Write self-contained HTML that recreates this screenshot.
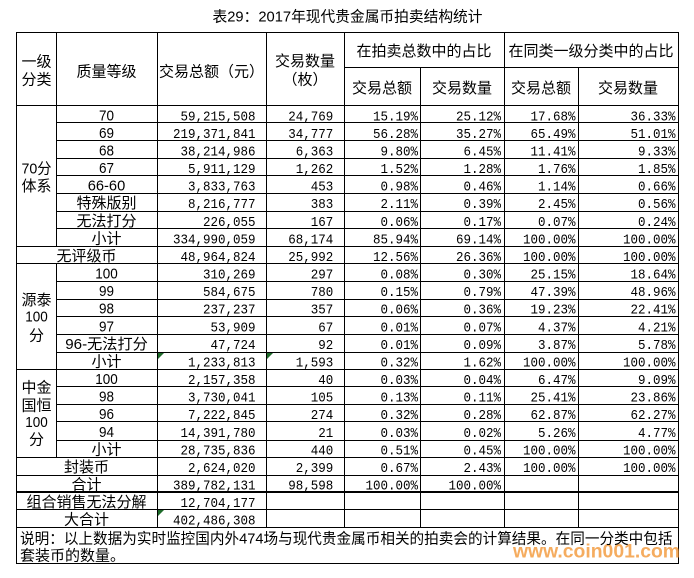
<!DOCTYPE html>
<html><head><meta charset="utf-8"><style>
html,body{margin:0;padding:0;background:#fff;}
svg{display:block;}
.c{font-family:"Liberation Sans","Noto Sans CJK SC",sans-serif;font-size:15px;fill:#000;}
.n{font-family:"Liberation Mono","Noto Sans CJK SC",monospace;font-size:14px;fill:#000;}
</style></head><body>
<svg width="694" height="578" viewBox="0 0 694 578" xmlns="http://www.w3.org/2000/svg">
<rect x="0" y="0" width="694" height="578" fill="#fff"/>
<g fill="#000" shape-rendering="crispEdges">
<!-- horizontal -->
<rect x="16" y="32" width="663" height="1"/>
<rect x="344" y="67" width="335" height="1"/>
<rect x="16" y="105" width="663" height="1"/>
<rect x="56" y="122" width="623" height="1"/>
<rect x="56" y="140" width="623" height="1"/>
<rect x="56" y="158" width="623" height="1"/>
<rect x="56" y="175" width="623" height="1"/>
<rect x="56" y="193" width="623" height="1"/>
<rect x="56" y="211" width="623" height="1"/>
<rect x="56" y="228" width="623" height="1"/>
<rect x="16" y="246" width="663" height="1"/>
<rect x="16" y="263" width="663" height="1"/>
<rect x="56" y="281" width="623" height="1"/>
<rect x="56" y="299" width="623" height="1"/>
<rect x="56" y="316" width="623" height="1"/>
<rect x="56" y="334" width="623" height="1"/>
<rect x="56" y="352" width="623" height="1"/>
<rect x="16" y="369" width="663" height="1"/>
<rect x="56" y="386" width="623" height="1"/>
<rect x="56" y="404" width="623" height="1"/>
<rect x="56" y="421" width="623" height="1"/>
<rect x="56" y="440" width="623" height="1"/>
<rect x="16" y="457" width="663" height="1"/>
<rect x="16" y="475" width="663" height="1"/>
<rect x="16" y="491" width="663" height="2"/>
<rect x="16" y="509" width="663" height="1"/>
<rect x="16" y="527" width="663" height="1"/>
<rect x="16" y="563" width="663" height="1"/>
<!-- vertical -->
<rect x="16" y="32" width="1" height="532"/>
<rect x="56" y="32" width="1" height="215"/>
<rect x="56" y="263" width="1" height="195"/>
<rect x="157" y="32" width="1" height="496"/>
<rect x="266" y="32" width="1" height="496"/>
<rect x="344" y="32" width="1" height="496"/>
<rect x="504" y="32" width="1" height="496"/>
<rect x="420" y="67" width="1" height="461"/>
<rect x="578" y="67" width="1" height="461"/>
<rect x="678" y="32" width="1" height="532"/>
</g>
<!-- excel green markers -->
<g fill="#1e6b2a">
<polygon points="158,353 164,353 158,359"/>
<polygon points="267,353 273,353 267,359"/>
<polygon points="158,510 164,510 158,516"/>
</g>

<!-- title -->
<text class="c" x="347.5" y="21.7" text-anchor="middle" textLength="270" lengthAdjust="spacingAndGlyphs">表29：2017年现代贵金属币拍卖结构统计</text>

<!-- header -->
<g class="c" text-anchor="middle">
<text x="36.5" y="66.5">一级</text>
<text x="36.5" y="84.5">分类</text>
<text x="106.5" y="76.5">质量等级</text>
<text x="211.5" y="76.5">交易总额（元）</text>
<text x="305" y="66">交易数量</text>
<text x="305" y="84.5">（枚）</text>
<text x="424" y="56">在拍卖总数中的占比</text>
<text x="591" y="56">在同类一级分类中的占比</text>
<text x="382" y="93">交易总额</text>
<text x="462" y="93">交易数量</text>
<text x="541" y="93">交易总额</text>
<text x="628" y="93">交易数量</text>
</g>

<!-- group labels col1 -->
<g class="c" text-anchor="middle">
<text x="36.5" y="173.5" textLength="30" lengthAdjust="spacingAndGlyphs">70分</text>
<text x="36.5" y="191">体系</text>
<text x="36.5" y="305">源泰</text>
<text x="36.5" y="321.7" textLength="22.5" lengthAdjust="spacingAndGlyphs">100</text>
<text x="36.5" y="340.7">分</text>
<text x="36.5" y="392.4">中金</text>
<text x="36.5" y="410.5">国恒</text>
<text x="36.5" y="427" textLength="22.5" lengthAdjust="spacingAndGlyphs">100</text>
<text x="36.5" y="444.5">分</text>
</g>

<!-- col2 labels -->
<g class="c" text-anchor="middle">
<text x="106.5" y="120.3" textLength="15" lengthAdjust="spacingAndGlyphs">70</text>
<text x="106.5" y="137.9" textLength="15" lengthAdjust="spacingAndGlyphs">69</text>
<text x="106.5" y="155.5" textLength="15" lengthAdjust="spacingAndGlyphs">68</text>
<text x="106.5" y="173" textLength="15" lengthAdjust="spacingAndGlyphs">67</text>
<text x="106.5" y="190.6" textLength="37.5" lengthAdjust="spacingAndGlyphs">66-60</text>
<text x="106.5" y="208.2">特殊版别</text>
<text x="106.5" y="225.8">无法打分</text>
<text x="106.5" y="243.4">小计</text>
<text x="86.5" y="261">无评级币</text>
<text x="106.5" y="278.5" textLength="22.5" lengthAdjust="spacingAndGlyphs">100</text>
<text x="106.5" y="296.1" textLength="15" lengthAdjust="spacingAndGlyphs">99</text>
<text x="106.5" y="313.7" textLength="15" lengthAdjust="spacingAndGlyphs">98</text>
<text x="106.5" y="331.3" textLength="15" lengthAdjust="spacingAndGlyphs">97</text>
<text x="106.5" y="348.9" textLength="82.5" lengthAdjust="spacingAndGlyphs">96-无法打分</text>
<text x="106.5" y="366.5">小计</text>
<text x="106.5" y="384" textLength="22.5" lengthAdjust="spacingAndGlyphs">100</text>
<text x="106.5" y="401.6" textLength="15" lengthAdjust="spacingAndGlyphs">98</text>
<text x="106.5" y="419.2" textLength="15" lengthAdjust="spacingAndGlyphs">96</text>
<text x="106.5" y="436.8" textLength="15" lengthAdjust="spacingAndGlyphs">94</text>
<text x="106.5" y="454.4">小计</text>
<text x="86.5" y="472">封装币</text>
<text x="86.5" y="489.5">合计</text>
<text x="86.5" y="507.1">组合销售无法分解</text>
<text x="86.5" y="524.7">大合计</text>
</g>

<!-- col3 amounts -->
<g class="n" text-anchor="end">
<text x="255.5" y="120.3" textLength="75" lengthAdjust="spacingAndGlyphs">59,215,508</text>
<text x="255.5" y="137.9" textLength="82.5" lengthAdjust="spacingAndGlyphs">219,371,841</text>
<text x="255.5" y="155.5" textLength="75" lengthAdjust="spacingAndGlyphs">38,214,986</text>
<text x="255.5" y="173" textLength="67.5" lengthAdjust="spacingAndGlyphs">5,911,129</text>
<text x="255.5" y="190.6" textLength="67.5" lengthAdjust="spacingAndGlyphs">3,833,763</text>
<text x="255.5" y="208.2" textLength="67.5" lengthAdjust="spacingAndGlyphs">8,216,777</text>
<text x="255.5" y="225.8" textLength="52.5" lengthAdjust="spacingAndGlyphs">226,055</text>
<text x="255.5" y="243.4" textLength="82.5" lengthAdjust="spacingAndGlyphs">334,990,059</text>
<text x="255.5" y="261" textLength="75" lengthAdjust="spacingAndGlyphs">48,964,824</text>
<text x="255.5" y="278.5" textLength="52.5" lengthAdjust="spacingAndGlyphs">310,269</text>
<text x="255.5" y="296.1" textLength="52.5" lengthAdjust="spacingAndGlyphs">584,675</text>
<text x="255.5" y="313.7" textLength="52.5" lengthAdjust="spacingAndGlyphs">237,237</text>
<text x="255.5" y="331.3" textLength="45" lengthAdjust="spacingAndGlyphs">53,909</text>
<text x="255.5" y="348.9" textLength="45" lengthAdjust="spacingAndGlyphs">47,724</text>
<text x="255.5" y="366.5" textLength="67.5" lengthAdjust="spacingAndGlyphs">1,233,813</text>
<text x="255.5" y="384" textLength="67.5" lengthAdjust="spacingAndGlyphs">2,157,358</text>
<text x="255.5" y="401.6" textLength="67.5" lengthAdjust="spacingAndGlyphs">3,730,041</text>
<text x="255.5" y="419.2" textLength="67.5" lengthAdjust="spacingAndGlyphs">7,222,845</text>
<text x="255.5" y="436.8" textLength="75" lengthAdjust="spacingAndGlyphs">14,391,780</text>
<text x="255.5" y="454.4" textLength="75" lengthAdjust="spacingAndGlyphs">28,735,836</text>
<text x="255.5" y="472" textLength="67.5" lengthAdjust="spacingAndGlyphs">2,624,020</text>
<text x="255.5" y="489.5" textLength="82.5" lengthAdjust="spacingAndGlyphs">389,782,131</text>
<text x="255.5" y="507.1" textLength="75" lengthAdjust="spacingAndGlyphs">12,704,177</text>
<text x="255.5" y="524.7" textLength="82.5" lengthAdjust="spacingAndGlyphs">402,486,308</text>
</g>

<!-- col4 counts -->
<g class="n" text-anchor="end">
<text x="333.3" y="120.3" textLength="45" lengthAdjust="spacingAndGlyphs">24,769</text>
<text x="333.3" y="137.9" textLength="45" lengthAdjust="spacingAndGlyphs">34,777</text>
<text x="333.3" y="155.5" textLength="37.5" lengthAdjust="spacingAndGlyphs">6,363</text>
<text x="333.3" y="173" textLength="37.5" lengthAdjust="spacingAndGlyphs">1,262</text>
<text x="333.3" y="190.6" textLength="22.5" lengthAdjust="spacingAndGlyphs">453</text>
<text x="333.3" y="208.2" textLength="22.5" lengthAdjust="spacingAndGlyphs">383</text>
<text x="333.3" y="225.8" textLength="22.5" lengthAdjust="spacingAndGlyphs">167</text>
<text x="333.3" y="243.4" textLength="45" lengthAdjust="spacingAndGlyphs">68,174</text>
<text x="333.3" y="261" textLength="45" lengthAdjust="spacingAndGlyphs">25,992</text>
<text x="333.3" y="278.5" textLength="22.5" lengthAdjust="spacingAndGlyphs">297</text>
<text x="333.3" y="296.1" textLength="22.5" lengthAdjust="spacingAndGlyphs">780</text>
<text x="333.3" y="313.7" textLength="22.5" lengthAdjust="spacingAndGlyphs">357</text>
<text x="333.3" y="331.3" textLength="15" lengthAdjust="spacingAndGlyphs">67</text>
<text x="333.3" y="348.9" textLength="15" lengthAdjust="spacingAndGlyphs">92</text>
<text x="333.3" y="366.5" textLength="37.5" lengthAdjust="spacingAndGlyphs">1,593</text>
<text x="333.3" y="384" textLength="15" lengthAdjust="spacingAndGlyphs">40</text>
<text x="333.3" y="401.6" textLength="22.5" lengthAdjust="spacingAndGlyphs">105</text>
<text x="333.3" y="419.2" textLength="22.5" lengthAdjust="spacingAndGlyphs">274</text>
<text x="333.3" y="436.8" textLength="15" lengthAdjust="spacingAndGlyphs">21</text>
<text x="333.3" y="454.4" textLength="22.5" lengthAdjust="spacingAndGlyphs">440</text>
<text x="333.3" y="472" textLength="37.5" lengthAdjust="spacingAndGlyphs">2,399</text>
<text x="333.3" y="489.5" textLength="45" lengthAdjust="spacingAndGlyphs">98,598</text>
</g>

<!-- col5 -->
<g class="n" text-anchor="end">
<text x="418" y="120.3" textLength="45" lengthAdjust="spacingAndGlyphs">15.19%</text>
<text x="418" y="137.9" textLength="45" lengthAdjust="spacingAndGlyphs">56.28%</text>
<text x="418" y="155.5" textLength="37.5" lengthAdjust="spacingAndGlyphs">9.80%</text>
<text x="418" y="173" textLength="37.5" lengthAdjust="spacingAndGlyphs">1.52%</text>
<text x="418" y="190.6" textLength="37.5" lengthAdjust="spacingAndGlyphs">0.98%</text>
<text x="418" y="208.2" textLength="37.5" lengthAdjust="spacingAndGlyphs">2.11%</text>
<text x="418" y="225.8" textLength="37.5" lengthAdjust="spacingAndGlyphs">0.06%</text>
<text x="418" y="243.4" textLength="45" lengthAdjust="spacingAndGlyphs">85.94%</text>
<text x="418" y="261" textLength="45" lengthAdjust="spacingAndGlyphs">12.56%</text>
<text x="418" y="278.5" textLength="37.5" lengthAdjust="spacingAndGlyphs">0.08%</text>
<text x="418" y="296.1" textLength="37.5" lengthAdjust="spacingAndGlyphs">0.15%</text>
<text x="418" y="313.7" textLength="37.5" lengthAdjust="spacingAndGlyphs">0.06%</text>
<text x="418" y="331.3" textLength="37.5" lengthAdjust="spacingAndGlyphs">0.01%</text>
<text x="418" y="348.9" textLength="37.5" lengthAdjust="spacingAndGlyphs">0.01%</text>
<text x="418" y="366.5" textLength="37.5" lengthAdjust="spacingAndGlyphs">0.32%</text>
<text x="418" y="384" textLength="37.5" lengthAdjust="spacingAndGlyphs">0.03%</text>
<text x="418" y="401.6" textLength="37.5" lengthAdjust="spacingAndGlyphs">0.13%</text>
<text x="418" y="419.2" textLength="37.5" lengthAdjust="spacingAndGlyphs">0.32%</text>
<text x="418" y="436.8" textLength="37.5" lengthAdjust="spacingAndGlyphs">0.03%</text>
<text x="418" y="454.4" textLength="37.5" lengthAdjust="spacingAndGlyphs">0.51%</text>
<text x="418" y="472" textLength="37.5" lengthAdjust="spacingAndGlyphs">0.67%</text>
<text x="418" y="489.5" textLength="52.5" lengthAdjust="spacingAndGlyphs">100.00%</text>
</g>

<!-- col6 -->
<g class="n" text-anchor="end">
<text x="501" y="120.3" textLength="45" lengthAdjust="spacingAndGlyphs">25.12%</text>
<text x="501" y="137.9" textLength="45" lengthAdjust="spacingAndGlyphs">35.27%</text>
<text x="501" y="155.5" textLength="37.5" lengthAdjust="spacingAndGlyphs">6.45%</text>
<text x="501" y="173" textLength="37.5" lengthAdjust="spacingAndGlyphs">1.28%</text>
<text x="501" y="190.6" textLength="37.5" lengthAdjust="spacingAndGlyphs">0.46%</text>
<text x="501" y="208.2" textLength="37.5" lengthAdjust="spacingAndGlyphs">0.39%</text>
<text x="501" y="225.8" textLength="37.5" lengthAdjust="spacingAndGlyphs">0.17%</text>
<text x="501" y="243.4" textLength="45" lengthAdjust="spacingAndGlyphs">69.14%</text>
<text x="501" y="261" textLength="45" lengthAdjust="spacingAndGlyphs">26.36%</text>
<text x="501" y="278.5" textLength="37.5" lengthAdjust="spacingAndGlyphs">0.30%</text>
<text x="501" y="296.1" textLength="37.5" lengthAdjust="spacingAndGlyphs">0.79%</text>
<text x="501" y="313.7" textLength="37.5" lengthAdjust="spacingAndGlyphs">0.36%</text>
<text x="501" y="331.3" textLength="37.5" lengthAdjust="spacingAndGlyphs">0.07%</text>
<text x="501" y="348.9" textLength="37.5" lengthAdjust="spacingAndGlyphs">0.09%</text>
<text x="501" y="366.5" textLength="37.5" lengthAdjust="spacingAndGlyphs">1.62%</text>
<text x="501" y="384" textLength="37.5" lengthAdjust="spacingAndGlyphs">0.04%</text>
<text x="501" y="401.6" textLength="37.5" lengthAdjust="spacingAndGlyphs">0.11%</text>
<text x="501" y="419.2" textLength="37.5" lengthAdjust="spacingAndGlyphs">0.28%</text>
<text x="501" y="436.8" textLength="37.5" lengthAdjust="spacingAndGlyphs">0.02%</text>
<text x="501" y="454.4" textLength="37.5" lengthAdjust="spacingAndGlyphs">0.45%</text>
<text x="501" y="472" textLength="37.5" lengthAdjust="spacingAndGlyphs">2.43%</text>
<text x="501" y="489.5" textLength="52.5" lengthAdjust="spacingAndGlyphs">100.00%</text>
</g>

<!-- col7 -->
<g class="n" text-anchor="end">
<text x="575.5" y="120.3" textLength="45" lengthAdjust="spacingAndGlyphs">17.68%</text>
<text x="575.5" y="137.9" textLength="45" lengthAdjust="spacingAndGlyphs">65.49%</text>
<text x="575.5" y="155.5" textLength="45" lengthAdjust="spacingAndGlyphs">11.41%</text>
<text x="575.5" y="173" textLength="37.5" lengthAdjust="spacingAndGlyphs">1.76%</text>
<text x="575.5" y="190.6" textLength="37.5" lengthAdjust="spacingAndGlyphs">1.14%</text>
<text x="575.5" y="208.2" textLength="37.5" lengthAdjust="spacingAndGlyphs">2.45%</text>
<text x="575.5" y="225.8" textLength="37.5" lengthAdjust="spacingAndGlyphs">0.07%</text>
<text x="575.5" y="243.4" textLength="52.5" lengthAdjust="spacingAndGlyphs">100.00%</text>
<text x="575.5" y="261" textLength="52.5" lengthAdjust="spacingAndGlyphs">100.00%</text>
<text x="575.5" y="278.5" textLength="45" lengthAdjust="spacingAndGlyphs">25.15%</text>
<text x="575.5" y="296.1" textLength="45" lengthAdjust="spacingAndGlyphs">47.39%</text>
<text x="575.5" y="313.7" textLength="45" lengthAdjust="spacingAndGlyphs">19.23%</text>
<text x="575.5" y="331.3" textLength="37.5" lengthAdjust="spacingAndGlyphs">4.37%</text>
<text x="575.5" y="348.9" textLength="37.5" lengthAdjust="spacingAndGlyphs">3.87%</text>
<text x="575.5" y="366.5" textLength="52.5" lengthAdjust="spacingAndGlyphs">100.00%</text>
<text x="575.5" y="384" textLength="37.5" lengthAdjust="spacingAndGlyphs">6.47%</text>
<text x="575.5" y="401.6" textLength="45" lengthAdjust="spacingAndGlyphs">25.41%</text>
<text x="575.5" y="419.2" textLength="45" lengthAdjust="spacingAndGlyphs">62.87%</text>
<text x="575.5" y="436.8" textLength="37.5" lengthAdjust="spacingAndGlyphs">5.26%</text>
<text x="575.5" y="454.4" textLength="52.5" lengthAdjust="spacingAndGlyphs">100.00%</text>
<text x="575.5" y="472" textLength="52.5" lengthAdjust="spacingAndGlyphs">100.00%</text>
</g>

<!-- col8 -->
<g class="n" text-anchor="end">
<text x="675.5" y="120.3" textLength="45" lengthAdjust="spacingAndGlyphs">36.33%</text>
<text x="675.5" y="137.9" textLength="45" lengthAdjust="spacingAndGlyphs">51.01%</text>
<text x="675.5" y="155.5" textLength="37.5" lengthAdjust="spacingAndGlyphs">9.33%</text>
<text x="675.5" y="173" textLength="37.5" lengthAdjust="spacingAndGlyphs">1.85%</text>
<text x="675.5" y="190.6" textLength="37.5" lengthAdjust="spacingAndGlyphs">0.66%</text>
<text x="675.5" y="208.2" textLength="37.5" lengthAdjust="spacingAndGlyphs">0.56%</text>
<text x="675.5" y="225.8" textLength="37.5" lengthAdjust="spacingAndGlyphs">0.24%</text>
<text x="675.5" y="243.4" textLength="52.5" lengthAdjust="spacingAndGlyphs">100.00%</text>
<text x="675.5" y="261" textLength="52.5" lengthAdjust="spacingAndGlyphs">100.00%</text>
<text x="675.5" y="278.5" textLength="45" lengthAdjust="spacingAndGlyphs">18.64%</text>
<text x="675.5" y="296.1" textLength="45" lengthAdjust="spacingAndGlyphs">48.96%</text>
<text x="675.5" y="313.7" textLength="45" lengthAdjust="spacingAndGlyphs">22.41%</text>
<text x="675.5" y="331.3" textLength="37.5" lengthAdjust="spacingAndGlyphs">4.21%</text>
<text x="675.5" y="348.9" textLength="37.5" lengthAdjust="spacingAndGlyphs">5.78%</text>
<text x="675.5" y="366.5" textLength="52.5" lengthAdjust="spacingAndGlyphs">100.00%</text>
<text x="675.5" y="384" textLength="37.5" lengthAdjust="spacingAndGlyphs">9.09%</text>
<text x="675.5" y="401.6" textLength="45" lengthAdjust="spacingAndGlyphs">23.86%</text>
<text x="675.5" y="419.2" textLength="45" lengthAdjust="spacingAndGlyphs">62.27%</text>
<text x="675.5" y="436.8" textLength="37.5" lengthAdjust="spacingAndGlyphs">4.77%</text>
<text x="675.5" y="454.4" textLength="52.5" lengthAdjust="spacingAndGlyphs">100.00%</text>
<text x="675.5" y="472" textLength="52.5" lengthAdjust="spacingAndGlyphs">100.00%</text>
</g>

<!-- watermark -->
<text x="513" y="557.5" textLength="167" lengthAdjust="spacingAndGlyphs" font-family="Liberation Sans, sans-serif" font-weight="bold" font-size="19.5" fill="#f39a3c" fill-opacity="0.82">www.coin001.com</text>

<!-- note -->
<text class="c" x="20" y="543.5" textLength="652.5" lengthAdjust="spacingAndGlyphs">说明：以上数据为实时监控国内外474场与现代贵金属币相关的拍卖会的计算结果。在同一分类中包括</text>
<text class="c" x="20" y="560.5" textLength="105" lengthAdjust="spacingAndGlyphs">套装币的数量。</text>
</svg>
</body></html>
